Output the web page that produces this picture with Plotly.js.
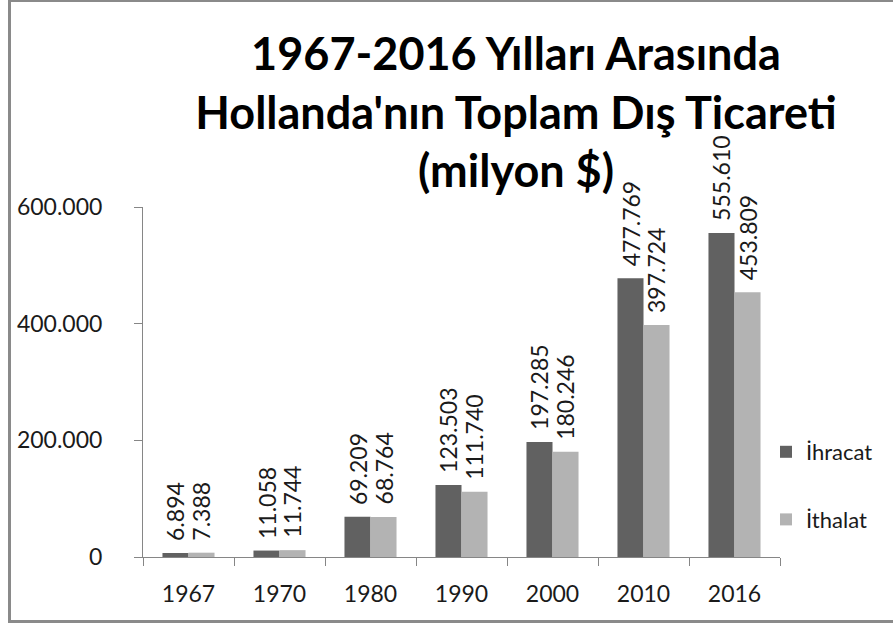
<!DOCTYPE html>
<html>
<head>
<meta charset="utf-8">
<script src="https://cdn.plot.ly/plotly-3.0.1.min.js"></script>
<style>
  html, body { margin: 0; padding: 0; background: #fff; }
  #wrap { position: relative; width: 893px; height: 623px; }
  #chart { width: 893px; height: 623px; }
  #frame { position: absolute; left: 8px; top: 0px; width: 885px; height: 623px;
           border-left: 3px solid #8a8a8a; border-top: 2px solid #8a8a8a; border-bottom: 3px solid #8a8a8a;
           pointer-events: none; box-sizing: border-box; }
</style>
</head>
<body>
<div id="wrap">
  <div id="chart"></div>
  <div id="frame"></div>
</div>
<script>
// ---- data ----
const years = ['1967', '1970', '1980', '1990', '2000', '2010', '2016'];
const ihracat = [6894, 11058, 69209, 123503, 197285, 477769, 555610];
const ithalat = [7388, 11744, 68764, 111740, 180246, 397724, 453809];
const seriesNames = ['İhracat', 'İthalat'];
const yTicks = [0, 200000, 400000, 600000];

// ---- styles ----
const FONT = 'Lato, "Open Sans", sans-serif';
const TXT = '#1a1a1a';
const AX = '#868686';
const COLORS = ['#616161', '#b3b3b3'];
const plotW = 637;
const bargap = 0.428;

function fmt(v) {
  return String(v).replace(/\B(?=(\d{3})+(?!\d))/g, '.');
}

const catW = plotW / years.length;
const barW = (1 - bargap) * catW / 2;

const traces = [ihracat, ithalat].map((vals, k) => ({
  type: 'bar',
  name: seriesNames[k],
  legendgroup: 'g' + k,
  x: years,
  y: vals,
  marker: { color: COLORS[k], line: { width: 0 } },
  hoverinfo: 'skip'
}));

const annotations = [];
[ihracat, ithalat].forEach((vals, k) => {
  vals.forEach((v, i) => {
    annotations.push({
      x: i, y: v, xref: 'x', yref: 'y',   // category index on the category axis
      text: fmt(v), textangle: -90, showarrow: false,
      xanchor: 'center', yanchor: 'bottom',
      xshift: (k === 0 ? -1 : 1) * barW / 2, yshift: 10,
      font: { family: FONT, size: 23, color: TXT }
    });
  });
});

const layout = {
  width: 893, height: 623,
  margin: { l: 143, r: 113, t: 207, b: 66 },
  paper_bgcolor: '#ffffff', plot_bgcolor: '#ffffff',
  separators: ',.',
  barmode: 'group', bargap: bargap, bargroupgap: 0,
  showlegend: true,
  title: {
    text: '1967-2016 Yılları Arasında<br>Hollanda\'nın Toplam Dış Ticareti<br>(milyon $)',
    font: { family: FONT, size: 45, color: '#000', weight: 'bold' },
    x: 516 / 893, xref: 'container', xanchor: 'center',
    y: 1 - 70 / 623, yref: 'container', yanchor: 'top'
  },
  xaxis: {
    type: 'category',
    range: [-0.5, years.length - 0.5],
    autorange: false,
    automargin: false,
    showline: true, linecolor: AX, linewidth: 1,
    ticks: 'outside', ticklen: 8, tickcolor: AX, tickwidth: 1,
    tickson: 'boundaries',
    showgrid: false, zeroline: false,
    tickfont: { family: FONT, size: 23, color: TXT },
    ticklabelstandoff: 16,
    fixedrange: true
  },
  yaxis: {
    range: [0, 600000],
    autorange: false,
    automargin: false,
    tickvals: yTicks,
    tickformat: ',d',
    showline: true, linecolor: AX, linewidth: 1,
    ticks: 'outside', ticklen: 8, tickcolor: AX, tickwidth: 1,
    showgrid: false, zeroline: false,
    tickfont: { family: FONT, size: 23, color: TXT },
    ticklabelstandoff: 27,
    fixedrange: true
  },
  legend: {
    x: (766 - 143) / plotW, xanchor: 'left',
    y: (557 - 486) / 350, yanchor: 'middle',
    traceorder: 'grouped', tracegroupgap: 36,
    font: { family: FONT, size: 22, color: TXT },
    bgcolor: 'rgba(0,0,0,0)'
  },
  annotations: annotations
};

Plotly.newPlot('chart', traces, layout, { displayModeBar: false, staticPlot: true });
</script>
</body>
</html>
